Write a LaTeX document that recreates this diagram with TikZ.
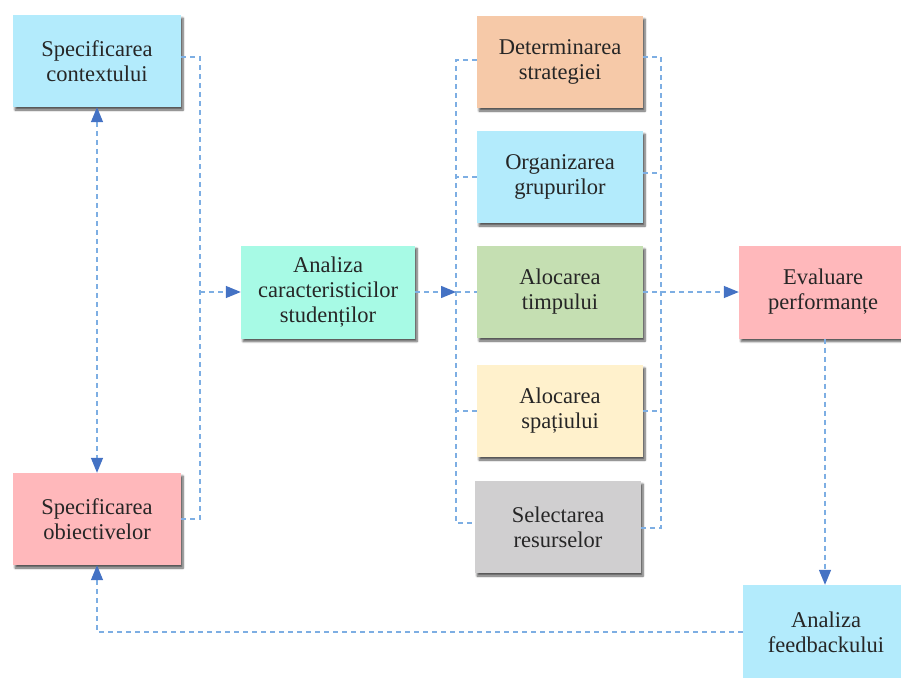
\documentclass[tikz,border=0pt]{standalone}
\usepackage{fontspec}
\setmainfont{Liberation Serif}
\usetikzlibrary{arrows.meta,shadows.blur}

\definecolor{skyfill}{HTML}{B3EBFC}
\definecolor{rosefill}{HTML}{FFB8BB}
\definecolor{mintfill}{HTML}{A7FAE5}
\definecolor{peachfill}{HTML}{F6C9A8}
\definecolor{sagefill}{HTML}{C5DFB2}
\definecolor{creamfill}{HTML}{FFF1CC}
\definecolor{greyfill}{HTML}{D0CFD0}
\definecolor{linkcol}{HTML}{7DAEE3}
\definecolor{tipcol}{HTML}{4472C4}

\begin{document}
\begin{tikzpicture}[x=1pt,y=-1pt,
  box/.style={draw=none, minimum width=168pt, minimum height=92pt, inner sep=0pt,
    align=center, font=\fontsize{22.5}{25}\selectfont, text=black!85,
    blur shadow={shadow xshift=2pt, shadow yshift=-3pt, shadow blur steps=6,
      shadow blur radius=2pt, shadow opacity=65}},
  link/.style={draw=linkcol, line width=1.4pt, dash pattern=on 5pt off 4pt},
  tipend/.style={-{Triangle[length=15pt,width=12pt,color=tipcol]}},
  tipboth/.style={{Triangle[length=15pt,width=12pt,color=tipcol]}-{Triangle[length=15pt,width=12pt,color=tipcol]}}]

\useasboundingbox (0,0) rectangle (901,677);
\clip (0,0) rectangle (901,677);

% boxes
\node[box, fill=skyfill]   (ctx)   at (97,61)    {Specificarea\\contextului};
\node[box, fill=rosefill]  (obj)   at (97,519)   {Specificarea\\obiectivelor};
\node[box, fill=mintfill, minimum width=174pt, minimum height=93pt] (ana) at (328,292)
  {Analiza\\caracteristicilor\\studenților};
\node[box, fill=peachfill, minimum width=166pt] (strat) at (560,62)  {Determinarea\\strategiei};
\node[box, fill=skyfill,   minimum width=166pt] (grup)  at (560,177) {Organizarea\\grupurilor};
\node[box, fill=sagefill,  minimum width=166pt] (timp)  at (560,292) {Alocarea\\timpului};
\node[box, fill=creamfill, minimum width=166pt] (spat)  at (560,411) {Alocarea\\spațiului};
\node[box, fill=greyfill,  minimum width=166pt] (res)   at (558,527) {Selectarea\\resurselor};
\node[box, fill=rosefill,  minimum height=93pt] (eval)  at (823,292) {Evaluare\\performanțe};
\node[box, fill=skyfill,   minimum width=166pt, minimum height=94pt] (feed) at (826,632)
  {Analiza\\feedbackului};

% junction points of the brackets
\coordinate (jl) at (200,292);
\coordinate (jm) at (456,292);
\coordinate (jr) at (661,292);

% left bracket joining the two specifications
\draw[link] ([yshift=4pt]ctx.east) -| (jl) |- (obj.east);
\draw[link, tipend] (jl) -- (ana.west);
\draw[link, tipboth] (ctx.south) -- (obj.north);

% brackets around the planning steps
\draw[link] ([yshift=2pt]strat.west) -| (jm) |- ([yshift=4pt]res.west);
\draw[link] (grup.west) -- (grup.west -| jm);
\draw[link] (spat.west) -- (spat.west -| jm);
\draw[link, tipend] (ana.east) -- (jm);
\draw[link] (jm) -- (timp.west);

\draw[link] ([yshift=5pt]strat.east) -| (jr) |- ([yshift=-1pt]res.east);
\draw[link] ([yshift=4pt]grup.east) -- ([yshift=4pt]grup.east -| jr);
\draw[link] (spat.east) -- (spat.east -| jr);
\draw[link, tipend] (timp.east) -- (eval.west);

% evaluation and feedback loop
\draw[link, tipend] ([xshift=2pt]eval.south) -- ([xshift=-1pt]feed.north);
\draw[link, tipend] (feed.west) -| (obj.south);

\end{tikzpicture}
\end{document}
